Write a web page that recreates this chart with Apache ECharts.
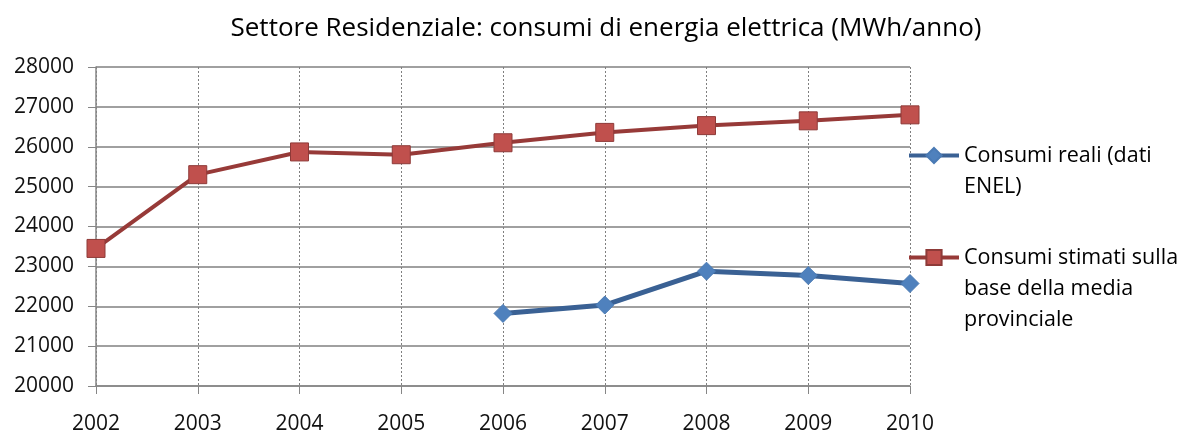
<!DOCTYPE html>
<html>
<head>
<meta charset="utf-8">
<script src="https://cdn.jsdelivr.net/npm/echarts@6/dist/echarts.min.js"></script>
<style>
  html, body { margin: 0; padding: 0; background: #fff; }
  #chart { width: 1183px; height: 435px; }
</style>
</head>
<body>
<div id="chart"></div>
<script>
var anni = ["2002", "2003", "2004", "2005", "2006", "2007", "2008", "2009", "2010"];
// consumi reali (dati ENEL), solo dal 2006
var consumiReali = [null, null, null, null, 21820, 22030, 22880, 22770, 22570];
// consumi stimati sulla base della media provinciale
var consumiStimati = [23450, 25300, 25870, 25800, 26100, 26360, 26530, 26650, 26800];

var nomeReali = "Consumi reali (dati\nENEL)";
var nomeStimati = "Consumi stimati sulla\nbase della media\nprovinciale";

var font = "Open Sans";
var myChart = echarts.init(document.getElementById("chart"));

// righe vuote davanti, così l'icona resta allineata alla prima riga
function allineaPrimaRiga(name) {
  var n = name.split("\n").length;
  return new Array(n).join("\n") + name;
}

var legendaBase = {
  left: 907,
  padding: 0,
  itemWidth: 50,
  itemHeight: 19,
  formatter: allineaPrimaRiga,
  lineStyle: { width: 4 },
  textStyle: { fontFamily: font, fontSize: 21.5, color: "#000", lineHeight: 31 }
};

var option = {
  backgroundColor: "#fff",
  animation: false,
  title: {
    text: "Settore Residenziale: consumi di energia elettrica (MWh/anno)",
    left: 601,
    textAlign: "center",
    top: 11,
    textStyle: { fontFamily: font, fontSize: 26, fontWeight: "normal", color: "#000" }
  },
  legend: [
    echarts.util.merge({ top: 109, data: [nomeReali] }, legendaBase),
    echarts.util.merge({ top: 180, data: [nomeStimati] }, legendaBase)
  ],
  grid: { left: 96, right: 273, top: 67, bottom: 49 },
  xAxis: {
    type: "category",
    data: anni,
    boundaryGap: false,
    axisLine: { lineStyle: { color: "#868686", width: 1.5 } },
    axisTick: { show: true, length: 8, lineStyle: { color: "#868686" } },
    axisLabel: { fontFamily: font, fontSize: 21, color: "#111", margin: 28 },
    splitLine: { show: true, lineStyle: { color: "#7f7f7f", type: [2, 2], width: 1 } }
  },
  yAxis: {
    type: "value",
    min: 20000,
    max: 28000,
    interval: 1000,
    axisLine: { show: true, lineStyle: { color: "#868686", width: 1.5 } },
    axisTick: { show: true, length: 8, lineStyle: { color: "#868686" } },
    axisLabel: {
      fontFamily: font, fontSize: 21, color: "#111", margin: 22,
      formatter: function (v) { return String(v); }
    },
    splitLine: { show: true, lineStyle: { color: "#808080", width: 1.5 } }
  },
  series: [
    {
      name: nomeReali,
      type: "line",
      data: consumiReali,
      symbol: "diamond",
      symbolSize: [18, 18],
      lineStyle: { color: "#3a6194", width: 5 },
      itemStyle: { color: "#4f81bd", borderColor: "#4a7ab4", borderWidth: 1 },
      z: 3
    },
    {
      name: nomeStimati,
      type: "line",
      data: consumiStimati,
      symbol: "rect",
      symbolSize: 18,
      lineStyle: { color: "#973a38", width: 4 },
      itemStyle: { color: "#c0504d", borderColor: "#8e3a38", borderWidth: 1 },
      z: 2
    }
  ]
};

myChart.setOption(option);
</script>
</body>
</html>
